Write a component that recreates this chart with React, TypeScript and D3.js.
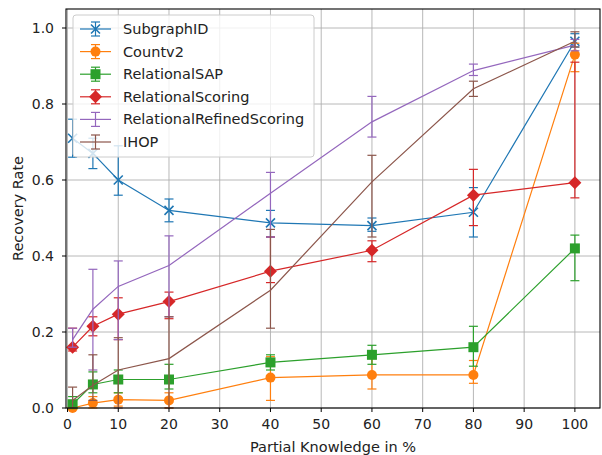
import React, { useEffect } from 'react';
import * as d3 from 'd3';

// knowledge levels (x)
const knowledge = [1, 5, 10, 20, 40, 60, 80, 100];

const subgraphVals = [0.71, 0.67, 0.60, 0.52, 0.487, 0.48, 0.515, 0.965];
const subgraphLo = [0.66, 0.63, 0.56, 0.49, 0.45, 0.465, 0.45, 0.95];
const subgraphHi = [0.76, 0.71, 0.69, 0.55, 0.52, 0.50, 0.58, 0.985];

const countVals = [0.0, 0.013, 0.022, 0.02, 0.08, 0.087, 0.087, 0.93];
const countLo = [0.0, 0.0, 0.005, 0.0, 0.02, 0.05, 0.065, 0.885];
const countHi = [0.01, 0.03, 0.04, 0.04, 0.135, 0.13, 0.125, 0.96];

const sapVals = [0.01, 0.062, 0.075, 0.075, 0.12, 0.14, 0.16, 0.42];
const sapLo = [0.0, 0.04, 0.04, 0.05, 0.10, 0.115, 0.11, 0.335];
const sapHi = [0.03, 0.095, 0.10, 0.115, 0.14, 0.165, 0.215, 0.455];

const scoringVals = [0.16, 0.215, 0.247, 0.28, 0.36, 0.415, 0.56, 0.593];
const scoringLo = [0.15, 0.19, 0.18, 0.235, 0.33, 0.385, 0.48, 0.553];
const scoringHi = [0.21, 0.24, 0.29, 0.305, 0.45, 0.44, 0.628, 0.91];

const refinedVals = [0.18, 0.26, 0.32, 0.375, 0.565, 0.753, 0.888, 0.955];
const refinedLo = [0.16, 0.10, 0.18, 0.24, 0.45, 0.713, 0.875, 0.94];
const refinedHi = [0.21, 0.365, 0.387, 0.453, 0.62, 0.82, 0.905, 0.97];

const ihopVals = [0.02, 0.06, 0.10, 0.13, 0.31, 0.595, 0.84, 0.965];
const ihopLo = [0.0, 0.02, 0.0, 0.0, 0.21, 0.45, 0.82, 0.95];
const ihopHi = [0.055, 0.14, 0.185, 0.24, 0.47, 0.665, 0.86, 0.99];

const xTicks = [0, 10, 20, 30, 40, 50, 60, 70, 80, 90, 100];
const yTicks = [0, 0.2, 0.4, 0.6, 0.8, 1.0];

type Marker = 'x' | 'o' | 's' | 'D' | 'none';

const series = [
  { name: 'SubgraphID', color: '#1f77b4', marker: 'x' as Marker, vals: subgraphVals, lo: subgraphLo, hi: subgraphHi },
  { name: 'Countv2', color: '#ff7f0e', marker: 'o' as Marker, vals: countVals, lo: countLo, hi: countHi },
  { name: 'RelationalSAP', color: '#2ca02c', marker: 's' as Marker, vals: sapVals, lo: sapLo, hi: sapHi },
  { name: 'RelationalScoring', color: '#d62728', marker: 'D' as Marker, vals: scoringVals, lo: scoringLo, hi: scoringHi },
  { name: 'RelationalRefinedScoring', color: '#9467bd', marker: 'none' as Marker, vals: refinedVals, lo: refinedLo, hi: refinedHi },
  { name: 'IHOP', color: '#8c564b', marker: 'none' as Marker, vals: ihopVals, lo: ihopLo, hi: ihopHi },
];

const W = 602;
const H = 455;
const margin = { left: 66, right: 2, top: 9, bottom: 47 };
const font = 'DejaVu Sans, sans-serif';

function MarkerShape({ type, x, y, color }: { type: Marker; x: number; y: number; color: string }) {
  if (type === 'x') {
    const s = 4.5;
    return (
      <path d={`M${x - s},${y - s}L${x + s},${y + s}M${x - s},${y + s}L${x + s},${y - s}`}
        stroke={color} strokeWidth={1.6} fill="none" />
    );
  }
  if (type === 'o') return <circle cx={x} cy={y} r={5} fill={color} />;
  if (type === 's') return <rect x={x - 5} y={y - 5} width={10} height={10} fill={color} />;
  if (type === 'D') {
    const s = 6.5;
    return <path d={`M${x},${y - s}L${x + s},${y}L${x},${y + s}L${x - s},${y}Z`} fill={color} />;
  }
  return null;
}

export default function App() {
  useEffect(() => {
    document.body.style.margin = '0';
  }, []);

  const x = d3.scaleLinear().domain([-0.3, 104.95]).range([margin.left, W - margin.right]);
  const y = d3.scaleLinear().domain([0, 1.05]).range([H - margin.bottom, margin.top]);
  const line = d3.line<number>().x((_, i) => x(knowledge[i])).y((d) => y(d));

  const capW = 4.5;
  const legendRowY = (i: number) => 29 + i * 22.6;

  return (
    <svg width={W} height={H} style={{ display: 'block', background: '#fff' }}>
      {/* grid */}
      <g stroke="#b0b0b0" strokeWidth={0.9}>
        {xTicks.map((t) => (
          <line key={'gx' + t} x1={x(t)} x2={x(t)} y1={margin.top} y2={H - margin.bottom} />
        ))}
        {yTicks.map((t) => (
          <line key={'gy' + t} x1={margin.left} x2={W - margin.right} y1={y(t)} y2={y(t)} />
        ))}
      </g>

      {/* series */}
      {series.map((s) => (
        <g key={s.name}>
          <path d={line(s.vals) || ''} fill="none" stroke={s.color} strokeWidth={1.2} />
          {s.vals.map((v, i) => {
            const cx = x(knowledge[i]);
            return (
              <g key={i} stroke={s.color} strokeWidth={1.2}>
                <line x1={cx} x2={cx} y1={y(s.lo[i])} y2={y(s.hi[i])} />
                <line x1={cx - capW} x2={cx + capW} y1={y(s.lo[i])} y2={y(s.lo[i])} />
                <line x1={cx - capW} x2={cx + capW} y1={y(s.hi[i])} y2={y(s.hi[i])} />
              </g>
            );
          })}
          {s.vals.map((v, i) => (
            <MarkerShape key={'m' + i} type={s.marker} x={x(knowledge[i])} y={y(v)} color={s.color} />
          ))}
        </g>
      ))}

      {/* axes frame */}
      <rect x={margin.left} y={margin.top} width={W - margin.left - margin.right}
        height={H - margin.top - margin.bottom} fill="none" stroke="#000" strokeWidth={1.1} />

      {/* ticks and labels */}
      <g fontFamily={font} fontSize={14} fill="#222">
        {xTicks.map((t) => (
          <g key={'tx' + t}>
            <line x1={x(t)} x2={x(t)} y1={H - margin.bottom} y2={H - margin.bottom + 4} stroke="#000" />
            <text x={x(t)} y={H - margin.bottom + 21} textAnchor="middle">{t}</text>
          </g>
        ))}
        {yTicks.map((t) => (
          <g key={'ty' + t}>
            <line x1={margin.left - 4} x2={margin.left} y1={y(t)} y2={y(t)} stroke="#000" />
            <text x={margin.left - 12} y={y(t) + 5} textAnchor="end">{t.toFixed(1)}</text>
          </g>
        ))}
        <text x={(margin.left + W - margin.right) / 2} y={H - 3} textAnchor="middle" fontSize={14.5}>
          Partial Knowledge in %
        </text>
        <text transform={`translate(23,${(margin.top + H - margin.bottom) / 2}) rotate(-90)`} textAnchor="middle"
          fontSize={14.5}>
          Recovery Rate
        </text>
      </g>

      {/* legend */}
      <g fontFamily={font} fontSize={14.5}>
        <rect x={73} y={15} width={241} height={142} rx={3} fill="#fff" fillOpacity={0.8} stroke="#cccccc" />
        {series.map((s, i) => {
          const ly = legendRowY(i);
          return (
            <g key={'lg' + s.name}>
              <line x1={80} x2={111} y1={ly} y2={ly} stroke={s.color} strokeWidth={1.2} />
              <g stroke={s.color} strokeWidth={1.2}>
                <line x1={95.5} x2={95.5} y1={ly - 7} y2={ly + 7} />
                <line x1={95.5 - capW} x2={95.5 + capW} y1={ly - 7} y2={ly - 7} />
                <line x1={95.5 - capW} x2={95.5 + capW} y1={ly + 7} y2={ly + 7} />
              </g>
              <MarkerShape type={s.marker} x={95.5} y={ly} color={s.color} />
              <text x={123} y={ly + 5} fill="#222">{s.name}</text>
            </g>
          );
        })}
      </g>
    </svg>
  );
}
